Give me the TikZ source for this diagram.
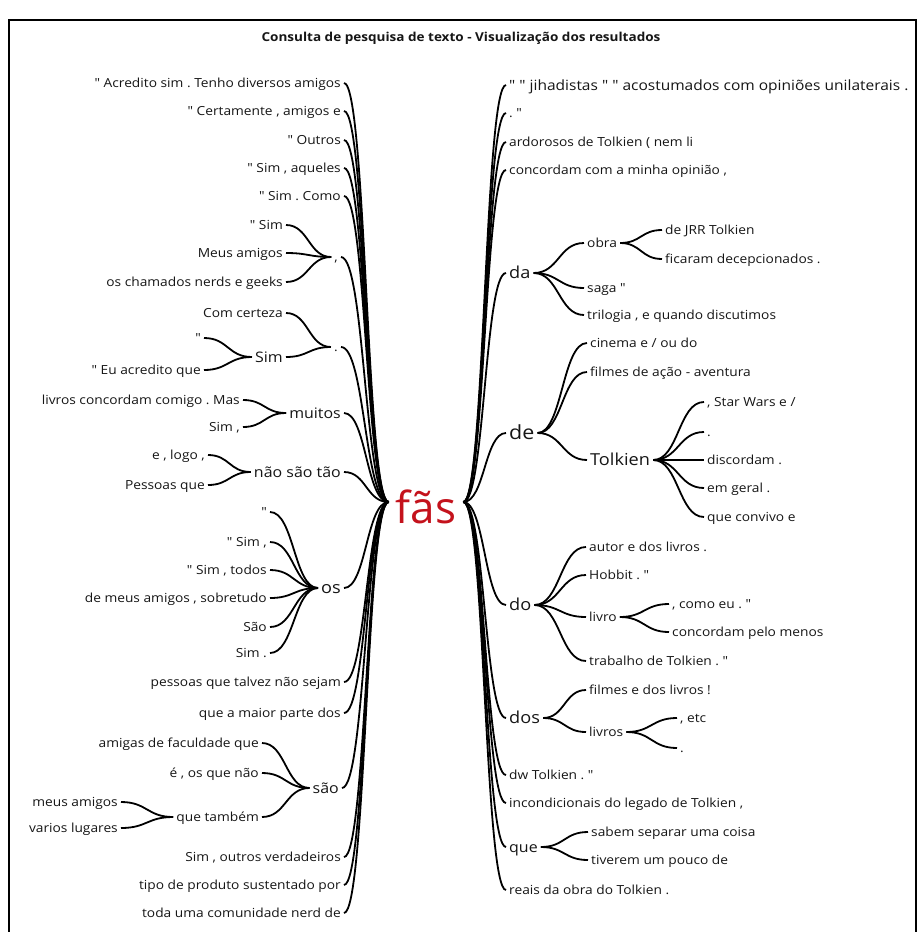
\documentclass[tikz,border=0pt]{standalone}
\usepackage{fontspec}
\setmainfont{Open Sans}[FakeStretch=1.1, Ligatures=TeXOff]
\newfontfamily\hubfont{Open Sans}
\usetikzlibrary{calc}
\frenchspacing

\definecolor{hubred}{RGB}{196,18,28}
\definecolor{ink}{RGB}{22,22,22}

% curved branch from the east side of one node to the west side of another
\newcommand\wlink[2]{%
  \draw[edge] let \p1=(#1.east), \p2=(#2.west), \n1={0.5*(\x2-\x1)} in
    (\p1) .. controls ({\x1+\n1},\y1) and ({\x2-\n1},\y2) .. (\p2);}

\tikzset{
  sm/.style={font=\fontsize{12.5}{14}\selectfont, text=ink, inner xsep=3pt, inner ysep=0pt,
             text height=9pt, text depth=0pt},
  md/.style={font=\fontsize{14.5}{16}\selectfont, text=ink, inner xsep=3pt, inner ysep=0pt,
             text height=10.4pt, text depth=0pt},
  lg/.style={font=\fontsize{16.5}{18}\selectfont, text=ink, inner xsep=3pt, inner ysep=0pt,
             text height=11.8pt, text depth=0pt},
  xl/.style={font=\fontsize{19.5}{21}\selectfont, text=ink, inner xsep=3pt, inner ysep=0pt,
             text height=13.6pt, text depth=0pt},
  hub/.style={font=\hubfont\fontsize{44}{44}\selectfont, text=hubred, inner xsep=7pt,
              inner ysep=0pt, text height=42pt, text depth=0pt},
  heading/.style={font=\bfseries\fontsize{12.3}{13}\selectfont, text=ink},
  edge/.style={draw=black, line width=1.8pt},
  frame/.style={draw=black, line width=1.2pt},
}

\begin{document}
\begin{tikzpicture}[x=1pt,y=-1pt]
\useasboundingbox[fill=white] (0,0) rectangle (922,932);
\draw[frame] (9,932) -- (9,20) -- (916,20) -- (916,932);

\node[heading] (title) at (461,38) {Consulta de pesquisa de texto - Visualização dos resultados};

\node[hub] (fas) at (426,502) {fãs};

% ---------- left branches ----------
\begin{scope}[every node/.append style={anchor=east}]
  \node[sm] (l1) at (344,83)  {" Acredito sim . Tenho diversos amigos};
  \node[sm] (l2) at (344,111) {" Certamente , amigos e};
  \node[sm] (l3) at (344,140) {" Outros};
  \node[sm] (l4) at (344,168) {" Sim , aqueles};
  \node[sm] (l5) at (344,196) {" Sim . Como};
  \node[sm] (lcomma) at (341,257) {,};
  \node[sm] (ldot) at (341,347) {.};
  \node[md] (lmuitos) at (344,413) {muitos};
  \node[md] (lnao) at (344,472) {não são tão};
  \node[lg] (los) at (344,588) {os};
  \node[sm] (lpess) at (344,682) {pessoas que talvez não sejam};
  \node[sm] (lmaior) at (344,713) {que a maior parte dos};
  \node[md] (lsao) at (342,788) {são};
  \node[sm] (lsim) at (344,857) {Sim , outros verdadeiros};
  \node[sm] (ltipo) at (344,885) {tipo de produto sustentado por};
  \node[sm] (ltoda) at (344,913) {toda uma comunidade nerd de};

  \node[sm] (ls1) at (286,225) {" Sim};
  \node[sm] (ls2) at (286,253) {Meus amigos};
  \node[sm] (ls3) at (286,282) {os chamados nerds e geeks};

  \node[sm] (lc1) at (286,313) {Com certeza};
  \node[md] (lcsim) at (286,357) {Sim};
  \node[sm] (lq1) at (204,338) {"};
  \node[sm] (lq2) at (204,370) {" Eu acredito que};

  \node[sm] (lm1) at (243,400) {livros concordam comigo . Mas};
  \node[sm] (lm2) at (243,427) {Sim ,};

  \node[sm] (ln1) at (208,455) {e , logo ,};
  \node[sm] (ln2) at (208,485) {Pessoas que};

  \node[sm] (lo1) at (270,512) {"};
  \node[sm] (lo2) at (270,542) {" Sim ,};
  \node[sm] (lo3) at (270,570) {" Sim , todos};
  \node[sm] (lo4) at (270,598) {de meus amigos , sobretudo};
  \node[sm] (lo5) at (270,627) {São};
  \node[sm] (lo6) at (270,653) {Sim .};

  \node[sm] (la1) at (262,743) {amigas de faculdade que};
  \node[sm] (la2) at (262,773) {é , os que não};
  \node[sm] (la3) at (262,817) {que também};
  \node[sm] (lt1) at (121,802) {meus amigos};
  \node[sm] (lt2) at (121,828) {varios lugares};
\end{scope}

% ---------- right branches ----------
\begin{scope}[every node/.append style={anchor=west}]
  \node[md, font=\fontsize{14.1}{16}\selectfont] (r1) at (506,85)
    {" " jihadistas " " acostumados com opiniões unilaterais .};
  \node[sm] (r2) at (506,113) {. "};
  \node[sm] (r3) at (506,142) {ardorosos de Tolkien ( nem li};
  \node[sm] (r4) at (506,170) {concordam com a minha opinião ,};
  \node[lg] (rda) at (506,273) {da};
  \node[xl] (rde) at (506,433) {de};
  \node[lg] (rdo) at (506,605) {do};
  \node[lg] (rdos) at (506,718) {dos};
  \node[sm] (rdw) at (506,775) {dw Tolkien . "};
  \node[sm] (rinc) at (506,803) {incondicionais do legado de Tolkien ,};
  \node[md] (rque) at (506,847) {que};
  \node[sm] (rreais) at (506,890) {reais da obra do Tolkien .};

  \node[sm] (rob) at (584,243) {obra};
  \node[sm] (rsaga) at (584,288) {saga "};
  \node[sm] (rtril) at (584,315) {trilogia , e quando discutimos};
  \node[sm] (rj) at (662,230) {de JRR Tolkien};
  \node[sm] (rfic) at (662,259) {ficaram decepcionados .};

  \node[sm] (rcin) at (587,343) {cinema e / ou do};
  \node[sm] (rfil) at (587,372) {filmes de ação - aventura};
  \node[lg] (rtol) at (587,460) {Tolkien};
  \node[sm] (rt1) at (704,402) {, Star Wars e /};
  \node[sm] (rt2) at (704,432) {.};
  \node[sm] (rt3) at (704,460) {discordam .};
  \node[sm] (rt4) at (704,488) {em geral .};
  \node[sm] (rt5) at (704,517) {que convivo e};

  \node[sm] (rau) at (586,547) {autor e dos livros .};
  \node[sm] (rhob) at (586,575) {Hobbit . "};
  \node[sm] (rliv) at (586,617) {livro};
  \node[sm] (rtrab) at (586,661) {trabalho de Tolkien . "};
  \node[sm] (rc1) at (669,604) {, como eu . "};
  \node[sm] (rc2) at (669,632) {concordam pelo menos};

  \node[sm] (rfd) at (586,690) {filmes e dos livros !};
  \node[sm] (rlvs) at (586,732) {livros};
  \node[sm] (re1) at (677,718) {, etc};
  \node[sm] (re2) at (677,748) {.};

  \node[sm] (rsab) at (588,832) {sabem separar uma coisa};
  \node[sm] (rtiv) at (588,860) {tiverem um pouco de};
\end{scope}

% ---------- connectors: left ----------
\foreach \nd in {l1,l2,l3,l4,l5,lcomma,ldot,lmuitos,lnao,los,lpess,lmaior,lsao,lsim,ltipo,ltoda}
  {\wlink{\nd}{fas}}
\foreach \nd in {ls1,ls2,ls3} {\wlink{\nd}{lcomma}}
\foreach \nd in {lc1,lcsim} {\wlink{\nd}{ldot}}
\foreach \nd in {lq1,lq2} {\wlink{\nd}{lcsim}}
\foreach \nd in {lm1,lm2} {\wlink{\nd}{lmuitos}}
\foreach \nd in {ln1,ln2} {\wlink{\nd}{lnao}}
\foreach \nd in {lo1,lo2,lo3,lo4,lo5,lo6} {\wlink{\nd}{los}}
\foreach \nd in {la1,la2,la3} {\wlink{\nd}{lsao}}
\foreach \nd in {lt1,lt2} {\wlink{\nd}{la3}}

% ---------- connectors: right ----------
\foreach \nd in {r1,r2,r3,r4,rda,rde,rdo,rdos,rdw,rinc,rque,rreais}
  {\wlink{fas}{\nd}}
\foreach \nd in {rob,rsaga,rtril} {\wlink{rda}{\nd}}
\foreach \nd in {rj,rfic} {\wlink{rob}{\nd}}
\foreach \nd in {rcin,rfil,rtol} {\wlink{rde}{\nd}}
\foreach \nd in {rt1,rt2,rt3,rt4,rt5} {\wlink{rtol}{\nd}}
\foreach \nd in {rau,rhob,rliv,rtrab} {\wlink{rdo}{\nd}}
\foreach \nd in {rc1,rc2} {\wlink{rliv}{\nd}}
\foreach \nd in {rfd,rlvs} {\wlink{rdos}{\nd}}
\foreach \nd in {re1,re2} {\wlink{rlvs}{\nd}}
\foreach \nd in {rsab,rtiv} {\wlink{rque}{\nd}}
\end{tikzpicture}
\end{document}
